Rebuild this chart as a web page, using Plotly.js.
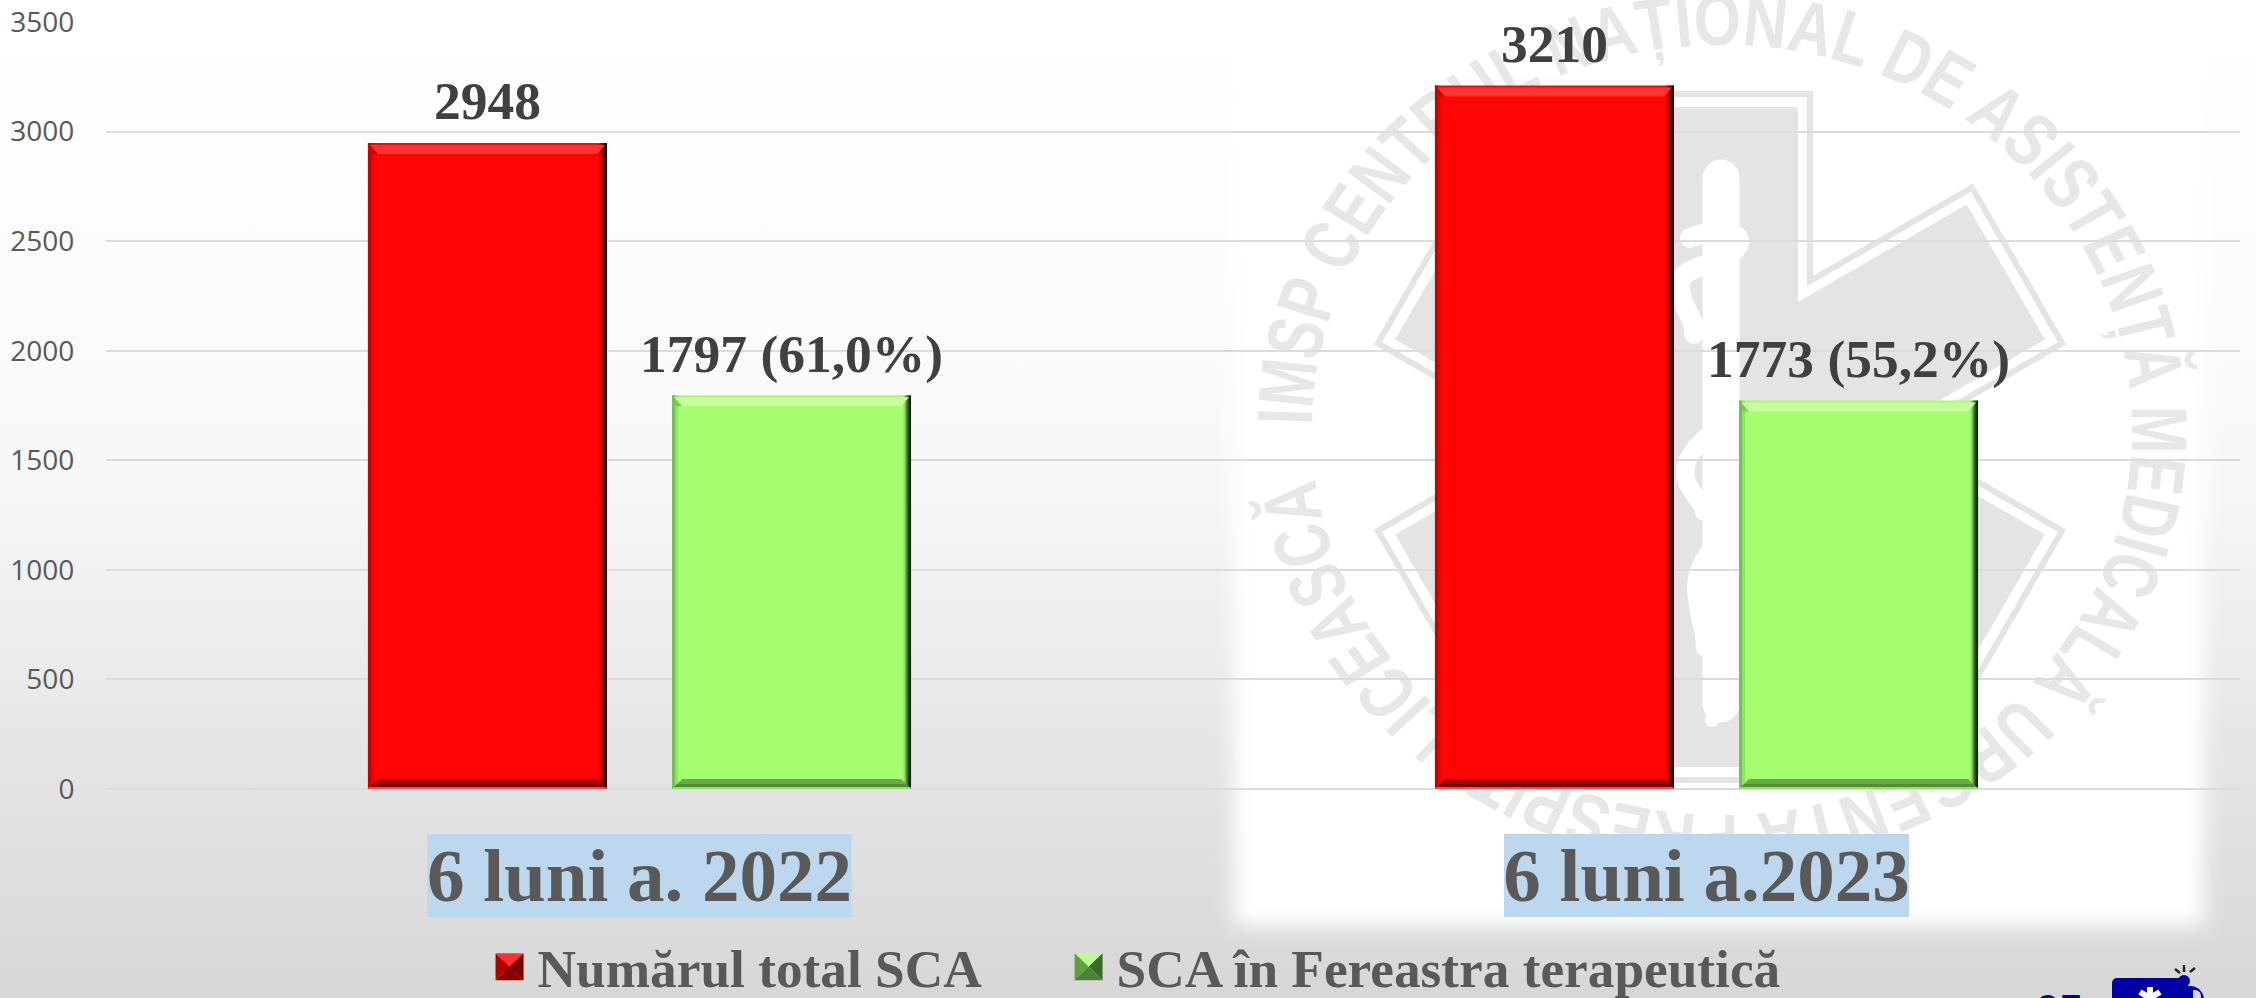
<!DOCTYPE html>
<html><head><meta charset="utf-8">
<script src="https://cdn.plot.ly/plotly-3.0.1.min.js"></script>
<style>
html,body{margin:0;padding:0;width:2256px;height:998px;overflow:hidden;background:#fff}
#bg{position:absolute;left:0;top:0}
#chart{position:absolute;left:0;top:0;width:2256px;height:998px}
</style></head><body>
<svg id="bg" width="2256" height="998" viewBox="0 0 2256 998" xmlns="http://www.w3.org/2000/svg">
<defs>
<linearGradient id="g" x1="0" y1="0" x2="0" y2="1">
<stop offset="0" stop-color="#ffffff"/><stop offset="0.3" stop-color="#fcfcfc"/><stop offset="0.5" stop-color="#f6f6f6"/><stop offset="0.76" stop-color="#e5e5e5"/><stop offset="1" stop-color="#d7d7d7"/>
</linearGradient>
<filter id="b" x="-5%" y="-5%" width="110%" height="110%"><feGaussianBlur stdDeviation="10"/></filter>
<path id="ring" d="M -385 -5 A 385 385 0 1 1 -382.5 44"/>
</defs>
<rect width="2256" height="998" fill="url(#g)"/>
<rect x="1234" y="-40" width="970" height="966" fill="#fff" filter="url(#b)"/>
<g fill="#e4e4e4" transform="translate(1720,437)">
  <g><rect x="-93" y="-346" width="186" height="692"/><rect x="-93" y="-346" width="186" height="692" transform="rotate(60)"/><rect x="-93" y="-346" width="186" height="692" transform="rotate(120)"/></g>
  <g fill="#fff"><rect x="-87" y="-340" width="174" height="680"/><rect x="-87" y="-340" width="174" height="680" transform="rotate(60)"/><rect x="-87" y="-340" width="174" height="680" transform="rotate(120)"/></g>
  <g><rect x="-78" y="-330" width="156" height="660"/><rect x="-78" y="-330" width="156" height="660" transform="rotate(60)"/><rect x="-78" y="-330" width="156" height="660" transform="rotate(120)"/></g>
</g>
<g fill="none" stroke="#fff" stroke-linecap="round">
  <path d="M1721 178 L1721 704" stroke-width="37"/>
  <path d="M1718 704 L1712 720" stroke-width="14"/>
  <path d="M1690 238 C1720 226 1745 232 1738 246 C1725 268 1675 262 1680 290 C1684 312 1696 320 1694 334" stroke-width="20"/>
  <path d="M1738 410 C1715 432 1680 450 1686 478 C1690 496 1702 498 1704 512" stroke-width="18"/>
  <path d="M1738 522 C1715 540 1690 565 1696 598 C1698 620 1704 630 1704 648" stroke-width="16"/>
</g>
<g fill="#e7e7e7" transform="translate(1722,430) scale(1.065,1)">
  <text font-family="Liberation Sans" font-weight="700" font-size="74"><textPath href="#ring" textLength="2365" lengthAdjust="spacingAndGlyphs">IMSP CENTRUL NAȚIONAL DE ASISTENȚĂ MEDICALĂ URGENTĂ PRESPITALICEASCĂ</textPath></text>
</g>
<text x="2036" y="1024" font-family="Liberation Sans" font-weight="700" font-size="42" fill="#0000a5">05</text>
<g fill="#0000a5">
  <rect x="2112" y="978" width="76" height="40" rx="5"/>
  <circle cx="2184" cy="981" r="6"/>
  <path d="M2186 986 h4 a14 14 0 0 1 14 14 v12 h-18 z"/>
</g>
<path d="M2193 990 h2 a6 6 0 0 1 6 6 v6 h-8 z" fill="#d8d8d8"/>
<path d="M2150 987 v11 M2140 992 l20 12 M2160 992 l-20 12" stroke="#fff" stroke-width="6" fill="none"/>
<path d="M2184 965 v7 M2175 969 l5 4 M2195 968 l-5 4" stroke="#222" stroke-width="2.5" fill="none"/>
</svg>
<div id="chart"></div>
<script>
const categories = ['6 luni a. 2022', '6 luni a.2023'];
const totalSCA = [2948, 3210];
const ferestraSCA = [1797, 1773];
const totalLabels = ['2948', '3210'];
const ferestraLabels = ['1797 (61,0%)', '1773 (55,2%)'];
const seriesNames = ['Numărul total SCA', 'SCA în Fereastra terapeutică'];
const yTicks = [0, 500, 1000, 1500, 2000, 2500, 3000, 3500];

const SERIF = 'Liberation Serif';
const barGap = 0.43, groupGap = 0.214;
const slot = (1 - barGap) / 2;
const hw = 119.5;   // half bar width in px

const themes = [
  {fill:'#ff0505', top:'#ff3434', bottom:'#a00808', bottom2:'#7a0606', edge:'#c80000', right:['#f00000','#d80000','#b80000','#8c0000','#5c0000','#300000','#100000','#080000'], foot:'#f05050'},
  {fill:'#a4ff70', top:'#c8ff9c', bottom:'#6aaa4c', bottom2:'#548a3c', edge:'#74c050', right:['#98ea68','#8fe060','#70b64c','#54893a','#3a5f28','#24401a','#14260e','#0e1c0a'], foot:'#8fe070'}
];

const shapes = [];
function bevel(xc, val, th){
  const common = {xref:'x', yref:'y', xsizemode:'pixel', ysizemode:'pixel', xanchor:xc, layer:'above', line:{width:0}};
  const sideBase = {xref:'x', yref:'y', xsizemode:'pixel', xanchor:xc, y0:0, y1:val, layer:'above', line:{width:0}, type:'rect'};
  shapes.push({...sideBase, x0:-hw, x1:-hw+3, fillcolor:th.edge, opacity:1});
  shapes.push({...sideBase, x0:-hw+3, x1:-hw+6, fillcolor:th.edge, opacity:0.4});
  th.right.forEach((c,i)=>shapes.push({...sideBase, x0:hw-8+i, x1:hw-7+i, fillcolor:c}));
  shapes.push({...common, type:'path', yanchor:val, fillcolor:th.top,
    path:`M${-hw+2},-2 L${hw-2},-2 L${hw-10},-11 L${-hw+10},-11 Z`});
  shapes.push({...common, type:'path', yanchor:val, fillcolor:th.edge, opacity:0.8,
    path:`M${-hw},0 L${-hw+10},-11 L${-hw+4},-11 L${-hw},-4 Z`});
  shapes.push({...common, type:'path', yanchor:0, fillcolor:th.bottom,
    path:`M${-hw},0 L${hw},0 L${hw-10},10 L${-hw+10},10 Z`});
  shapes.push({...common, type:'path', yanchor:0, fillcolor:th.bottom2,
    path:`M${-hw},0 L${hw},0 L${hw-5},5 L${-hw+5},5 Z`});
  shapes.push({...common, type:'path', yanchor:0, fillcolor:th.foot,
    path:`M${-hw},0 L${hw},0 L${hw-1},2 L${-hw+1},2 Z`});
}
categories.forEach((c,i)=>{
  bevel(i - slot/2, totalSCA[i], themes[0]);
  bevel(i + slot/2, ferestraSCA[i], themes[1]);
});
[212, 202.5].forEach((h,i)=>shapes.push({
  type:'rect', layer:'below', xref:'x', yref:'paper', xsizemode:'pixel', ysizemode:'pixel',
  xanchor:i, yanchor:0, x0:-h, x1:h, y0:-45, y1:-128, fillcolor:'#bdd7ee', line:{width:0}
}));

const valueFont = {family:SERIF, size:53.5, weight:700, color:'#404040'};
const annotations = [];
categories.forEach((c,i)=>{
  annotations.push({xref:'x', yref:'y', x:i - slot/2, y:totalSCA[i], text:totalLabels[i], showarrow:false, yanchor:'bottom', yshift:10, font:valueFont});
  annotations.push({xref:'x', yref:'y', x:i + slot/2, y:ferestraSCA[i], text:ferestraLabels[i], showarrow:false, yanchor:'bottom', yshift:9, font:valueFont});
});
const traces = [
 {type:'bar', name:seriesNames[0], x:categories, y:totalSCA, marker:{color:themes[0].fill, line:{width:0}}, hoverinfo:'skip', legendwidth:518},
 {type:'bar', name:seriesNames[1], x:categories, y:ferestraSCA, marker:{color:themes[1].fill, line:{width:0}}, hoverinfo:'skip', legendwidth:690}
];
const layout = {
  width:2256, height:998, paper_bgcolor:'rgba(0,0,0,0)', plot_bgcolor:'rgba(0,0,0,0)',
  margin:{l:106, r:16, t:22, b:209, pad:0, autoexpand:false},
  barmode:'group', bargap:barGap, bargroupgap:groupGap, shapes, annotations,
  showlegend:true,
  legend:{orientation:'h', xref:'paper', yref:'paper', x:0.176, xanchor:'left', y:-0.178, yanchor:'top',
    font:{family:SERIF, size:53.3, weight:700, color:'#595959'}, bgcolor:'rgba(0,0,0,0)', itemwidth:46, itemclick:false, itemdoubleclick:false},
  xaxis:{type:'category', range:[-0.5,1.5], showgrid:false, zeroline:false, showline:false, ticks:'', automargin:false,
    tickfont:{family:SERIF, size:75, weight:700, color:'#595959'}, tickangle:0, ticklabelstandoff:36},
  yaxis:{range:[0,3500], tickvals:yTicks, ticktext:yTicks.map(String), gridcolor:'#dcdcdc', gridwidth:2, zeroline:true, zerolinecolor:'#dcdcdc', zerolinewidth:2,
    showline:false, ticks:'outside', ticklen:25, tickcolor:'rgba(0,0,0,0)', automargin:false,
    tickfont:{family:'Open Sans', size:28, color:'#595959'}}
};
const NS='http://www.w3.org/2000/svg';
function styleKeys(){
  const sets=[['#ff3030','#b00000','#7a0000','#8a0000'],['#b8ff90','#5fa040','#3d6a2a','#4f8038']];
  document.querySelectorAll('.legend .traces').forEach((tr,i)=>{
    const g=tr.querySelector('.legendpoints'); if(!g||g.dataset.done) return;
    const p=g.querySelector('path'); if(!p) return;
    g.dataset.done='1';
    const s=sets[i], w=14, h=13.5;
    const m=(p.getAttribute('transform')||'');
    const grp=document.createElementNS(NS,'g'); if(m) grp.setAttribute('transform',m);
    [[`M${-w},${-h}L${w},${-h}L0,0Z`,s[0]],[`M${-w},${-h}L${-w},${h}L0,0Z`,s[1]],[`M${w},${-h}L${w},${h}L0,0Z`,s[2]],[`M${-w},${h}L${w},${h}L0,0Z`,s[3]]].forEach(a=>{
      const t=document.createElementNS(NS,'path'); t.setAttribute('d',a[0]); t.setAttribute('style','fill:'+a[1]); grp.appendChild(t);
    });
    g.appendChild(grp);
  });
}
Plotly.newPlot('chart', traces, layout, {displayModeBar:false}).then(gd=>{
  styleKeys();
  gd.on('plotly_afterplot', styleKeys);
});
</script>
</body></html>
